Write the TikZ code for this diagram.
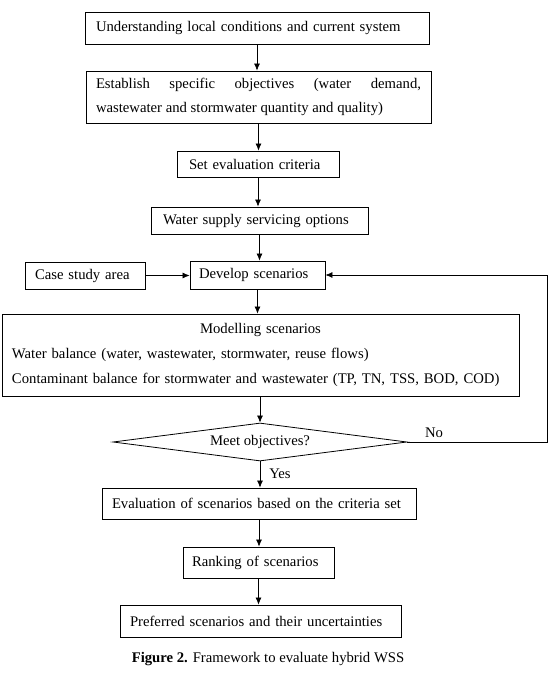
\documentclass[tikz,border=0pt]{standalone}
\usepackage{fontspec}
\setmainfont{Liberation Serif}
\usetikzlibrary{arrows.meta,shapes.geometric}

\tikzset{
  box/.style={draw=black, line width=0.8pt, inner xsep=10pt, inner ysep=0pt,
              align=left, anchor=center},
  flow/.style={draw=black, line width=0.7pt, -{Latex[length=7pt,width=6pt]}},
  lbl/.style={inner sep=0pt, anchor=center}
}

\begin{document}
\begin{tikzpicture}[x=1pt, y=-1pt, font=\fontsize{14.7}{18}\selectfont]
  \useasboundingbox (0,0) rectangle (552,674);

  % process steps
  \node[box, inner xsep=11pt, text width=322pt, minimum height=32pt] (b1) at (257,28)
    {\mbox{Understanding local conditions and current system}};
  \node[box, text width=325pt, minimum height=52pt, align=justify,
        font=\fontsize{14.7}{24}\selectfont] (b2) at (258.5,97)
    {Establish specific objectives (water demand,\linebreak
     wastewater and stormwater quantity and quality)};
  \node[box, inner xsep=12pt, text width=138pt, minimum height=26pt] (b3) at (258,164)
    {\mbox{Set evaluation criteria}};
  \node[box, inner xsep=12pt, text width=193pt, minimum height=27pt] (b4) at (259.5,220.5)
    {\mbox{Water supply servicing options}};
  \node[box, text width=100pt, minimum height=27pt] (case) at (85,275.5)
    {\mbox{Case study area}};
  \node[box, inner xsep=9pt, text width=117pt, minimum height=28pt] (dev) at (257.5,275)
    {\mbox{Develop scenarios}};
  \node[box, text width=497pt, minimum height=82pt,
        font=\fontsize{14.7}{25}\selectfont] (model) at (260.5,355)
    {{\centering Modelling scenarios\par}
     \mbox{Water balance (water, wastewater, stormwater, reuse flows)}\par
     \mbox{Contaminant balance for stormwater and wastewater (TP, TN, TSS, BOD, COD)}};
  \node[draw=black, line width=0.8pt, diamond, aspect=7.7, inner sep=0pt,
        minimum width=294pt, minimum height=38pt] (dec) at (260,442)
    {Meet objectives?};
  \node[box, text width=294pt, minimum height=31pt] (eval) at (259,503.5)
    {\mbox{Evaluation of scenarios based on the criteria set}};
  \node[box, inner xsep=9pt, text width=133pt, minimum height=31pt] (rank) at (258.5,562.5)
    {\mbox{Ranking of scenarios}};
  \node[box, text width=261pt, minimum height=32pt] (pref) at (260.5,621)
    {\mbox{Preferred scenarios and their uncertainties}};

  % connectors
  \draw[flow] (b1.south) -- (b1.south |- b2.north);
  \draw[flow] (b2.south) -- (b2.south |- b3.north);
  \draw[flow] (b3.south) -- (b3.south |- b4.north);
  \draw[flow] (b4.south) -- (b4.south |- dev.north);
  \draw[flow] (case.east) -- (case.east -| dev.west);
  \draw[flow] (dev.south) -- (dev.south |- model.north);
  \draw[flow] (model.south -| dec.north) -- (dec.north);
  \draw[flow] (dec.south) -- (dec.south |- eval.north);
  \draw[flow] (eval.south) -- (eval.south |- rank.north);
  \draw[flow] (rank.south) -- (rank.south |- pref.north);

  % loop back when objectives are not met
  \coordinate (loop) at (547,442);
  \draw[flow] (dec.east) -- (loop) |- (dev.east);

  \node[lbl] (no) at (434,433) {No};
  \node[lbl] (yes) at (280,474) {Yes};

  % caption
  \node[lbl] (cap) at (268,659) {\textbf{Figure 2.} Framework to evaluate hybrid WSS};
\end{tikzpicture}
\end{document}
